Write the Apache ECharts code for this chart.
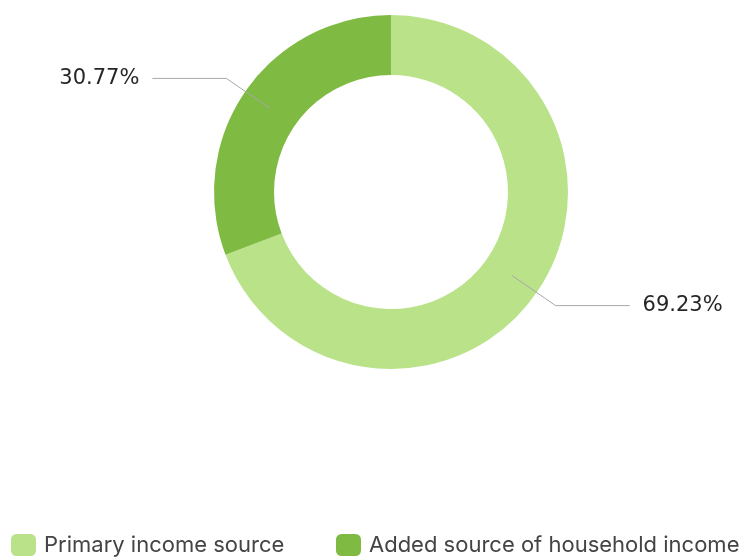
<!DOCTYPE html>
<html>
<head>
<meta charset="utf-8">
<style>
  html, body { margin: 0; padding: 0; background: #ffffff; }
  #chart { width: 745px; height: 558px; }
</style>
<script src="https://cdn.jsdelivr.net/npm/echarts@6/dist/echarts.min.js"></script>
</head>
<body>
<div id="chart"></div>
<script>
// Share of respondents by role of the income source
const categories = ['Primary income source', 'Added source of household income'];
const shares = [69.23, 30.77];
const colors = ['#b9e289', '#7fba42'];
const legendLefts = [11, 336];

const chart = echarts.init(document.getElementById('chart'), null, { renderer: 'canvas' });

const ringData = categories.map((name, i) => ({
  name, value: shares[i], itemStyle: { color: colors[i] }
}));

// Invisible pie that carries the labels so the leader lines start mid-ring
const labelData = categories.map((name, i) => ({
  name, value: shares[i], itemStyle: { color: 'rgba(0,0,0,0)' }
}));

// One legend per entry so each item sits at its own horizontal spot
const legends = categories.map((name, i) => ({
  data: [name],
  left: legendLefts[i],
  top: 534,
  padding: 0,
  itemWidth: 25,
  itemHeight: 22,
  icon: 'roundRect',
  textStyle: {
    fontFamily: 'Inter',
    fontSize: 22,
    color: '#444444',
    padding: [0, 0, 0, 3]
  },
  selectedMode: false
}));

chart.setOption({
  animation: false,
  legend: legends,
  series: [
    {
      type: 'pie',
      center: [391, 192],
      radius: [117, 177],
      startAngle: 90,
      clockwise: true,
      silent: true,
      label: { show: false },
      labelLine: { show: false },
      emphasis: { disabled: true },
      data: ringData
    },
    {
      type: 'pie',
      center: [391, 192],
      radius: [0, 147],
      startAngle: 90,
      clockwise: true,
      silent: true,
      legendHoverLink: false,
      z: 3,
      label: {
        show: true,
        position: 'outside',
        formatter: p => p.value.toFixed(2) + '%',
        fontFamily: 'DejaVu Sans',
        fontSize: 21,
        color: '#262626',
        distanceToLabelLine: 13
      },
      labelLine: {
        show: true,
        length: 53,
        length2: 74,
        lineStyle: { color: '#a8a8a8', width: 1 }
      },
      emphasis: { disabled: true },
      data: labelData
    }
  ]
});
</script>
</body>
</html>
